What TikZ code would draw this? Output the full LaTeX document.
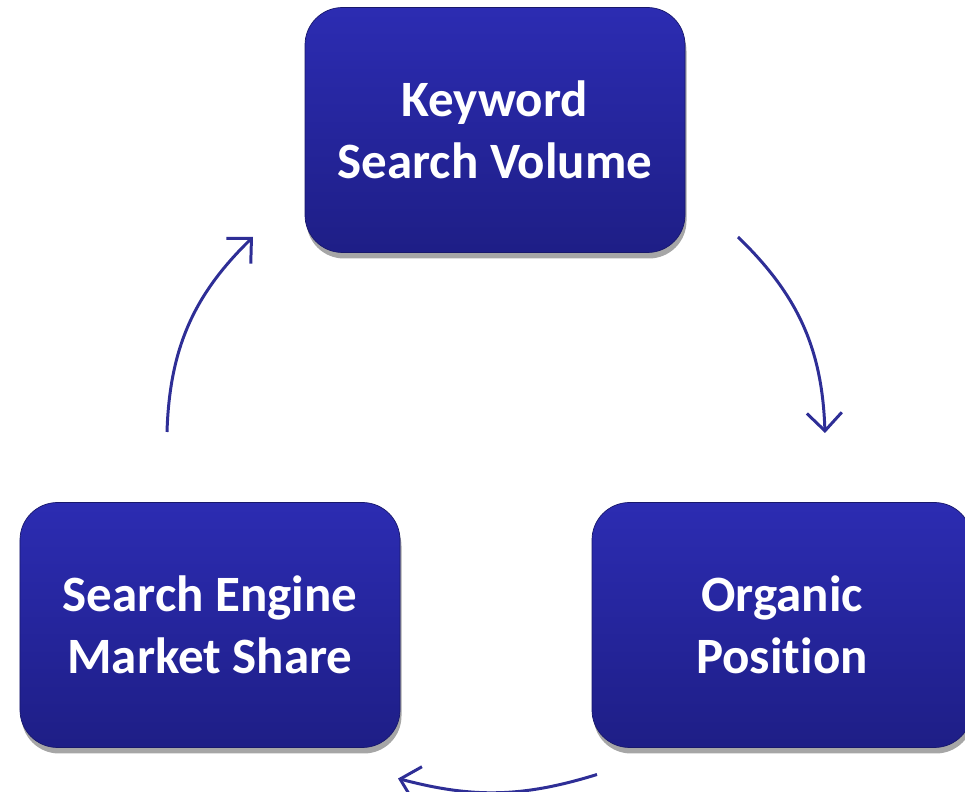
\documentclass[tikz,border=0pt]{standalone}
\usepackage{fontspec}
\setmainfont[Ligatures=NoCommon]{Carlito}
\usetikzlibrary{arrows.meta,shadows}
\definecolor{boxtop}{HTML}{2C2CB2}
\definecolor{boxbot}{HTML}{1E1E86}
\definecolor{arrowblue}{HTML}{2E2E96}
\tikzset{
    stage/.style={rectangle, rounded corners=0.75cm, minimum width=7.6cm, minimum height=4.9cm,
        top color=boxtop, bottom color=boxbot, draw=boxbot!80!black, line width=0.4pt,
        drop shadow={shadow xshift=0.03cm, shadow yshift=-0.12cm, opacity=0.35, fill=black},
        text=white, align=center, font=\bfseries\fontsize{29}{35}\selectfont},
    cycle/.style={draw=arrowblue, line width=1.7pt, -{Straight Barb[length=0.36cm, width=0.7cm, line width=1.7pt]}}
}
\begin{document}
\begin{tikzpicture}
    \useasboundingbox (0,0) rectangle (19.3,15.84);
    \node[stage] (kw) at (9.9,13.24) {Keyword\\Search Volume};
    \node[stage] (se) at (4.2,3.34) {Search Engine\\Market Share};
    \node[stage] (op) at (15.64,3.34) {Organic\\Position};
    \coordinate (kw-out) at (14.76,11.1);
    \coordinate (op-in) at (16.5,7.18);
    \coordinate (op-out) at (11.94,0.35);
    \coordinate (se-in) at (7.96,0.27);
    \coordinate (se-out) at (3.34,7.2);
    \coordinate (kw-in) at (5.06,11.1);
    \draw[cycle] (kw-out) to[bend left=22] (op-in);
    \draw[cycle] (op-out) to[bend left=16] (se-in);
    \draw[cycle] (se-out) to[bend left=22] (kw-in);
\end{tikzpicture}
\end{document}
